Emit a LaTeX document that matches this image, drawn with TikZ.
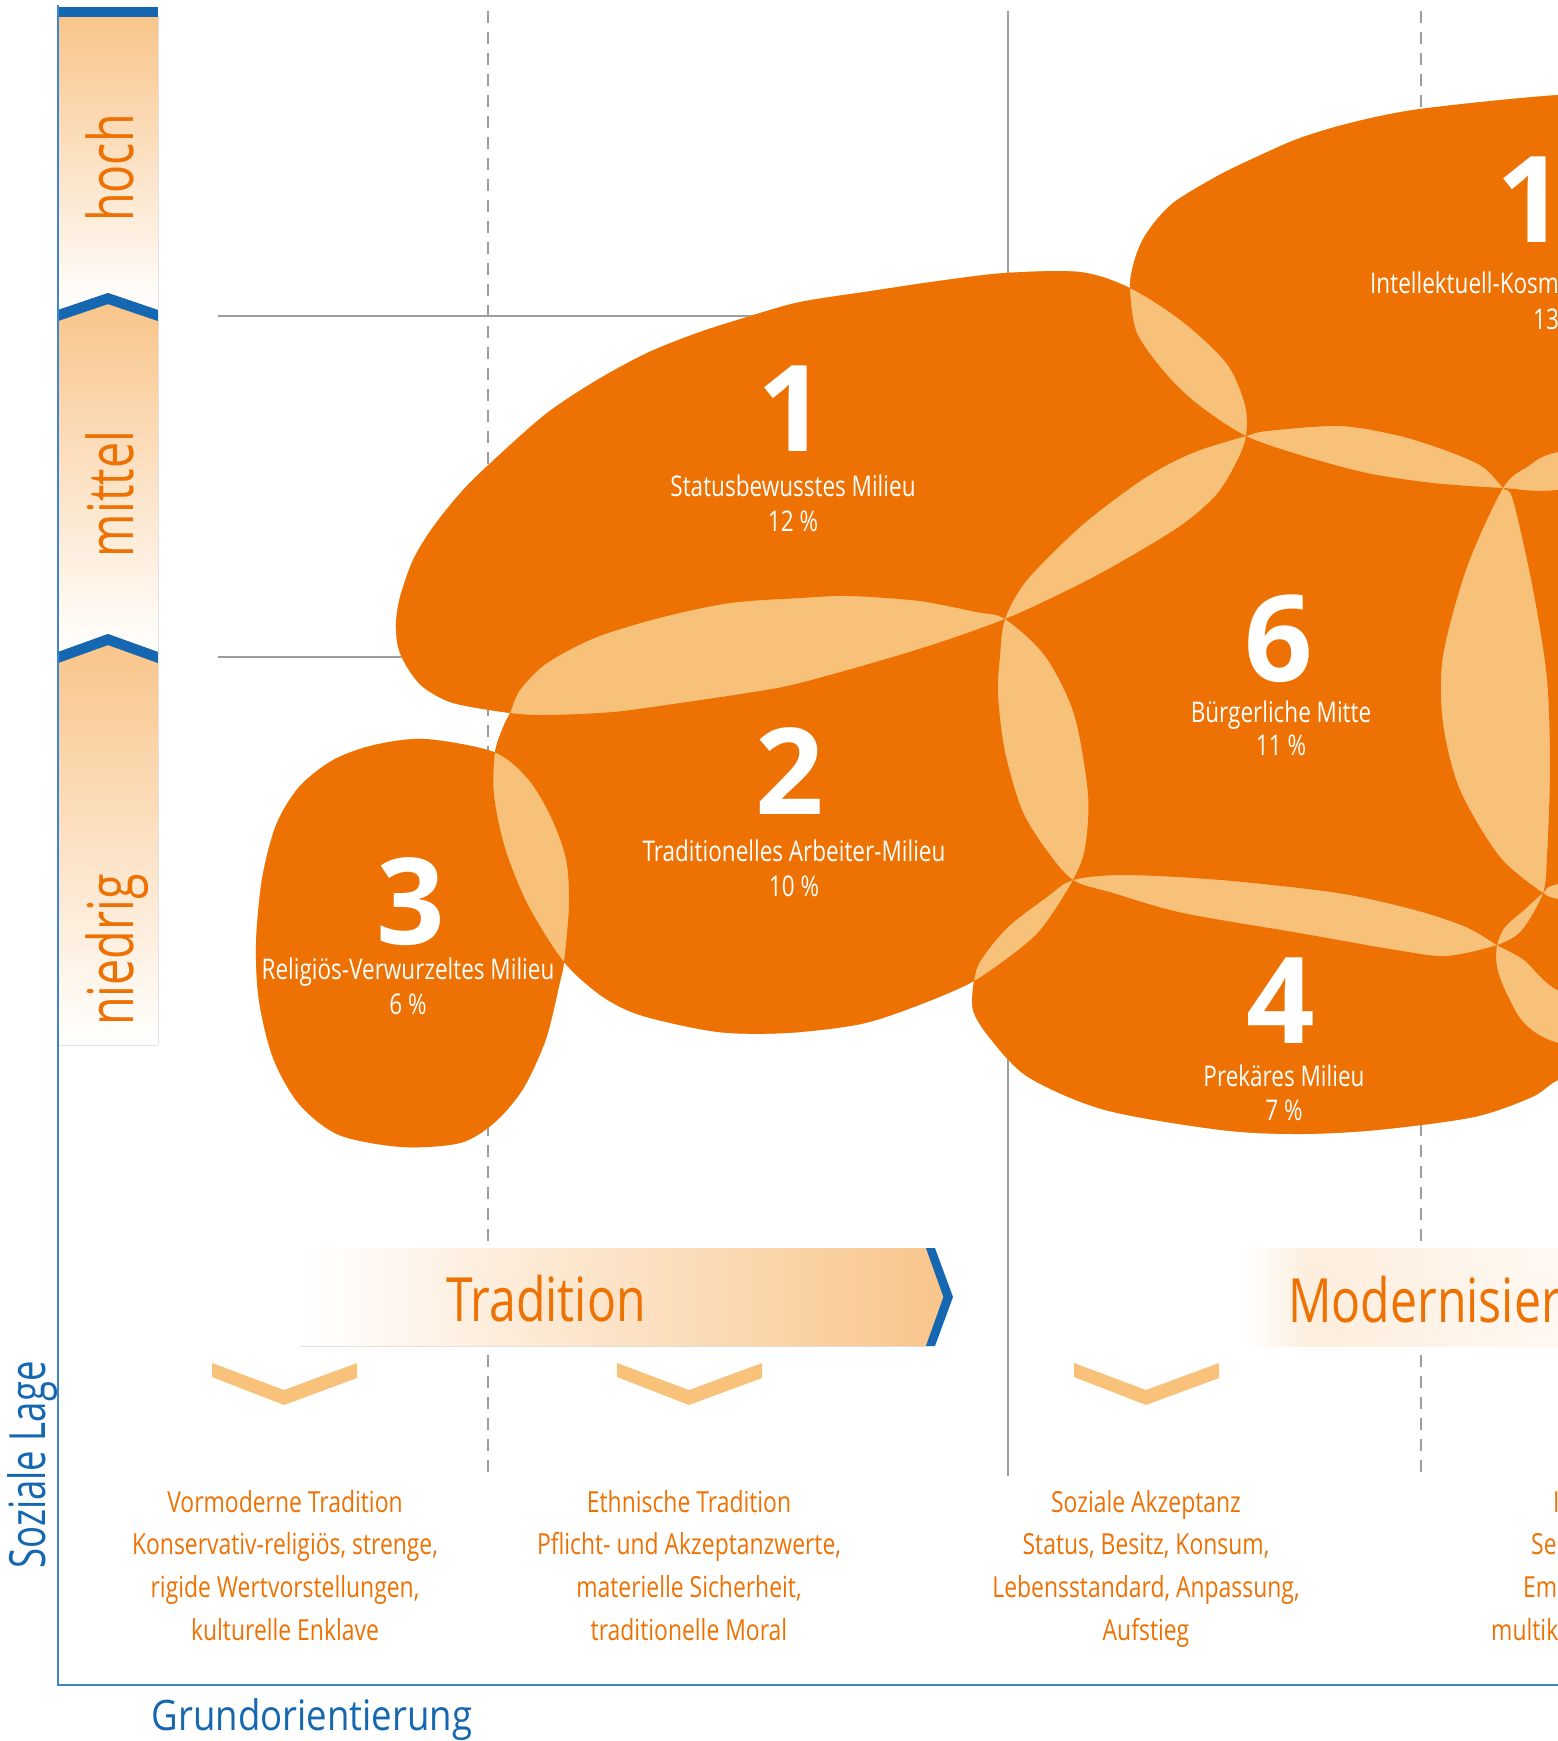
\documentclass[tikz,border=0pt]{standalone}
\usepackage{fontspec}
\usepackage{xcolor}
\usepackage{tikz}

\newfontfamily\condfont[FakeStretch=0.79]{Open Sans}
\newfontfamily\levelfont[FakeStretch=0.74]{Open Sans}
\newfontfamily\lagefont[FakeStretch=0.73]{Open Sans}
\newfontfamily\axisfont[FakeStretch=0.87]{Open Sans}
\newfontfamily\numfont{Open Sans}

\definecolor{blobcolor}{HTML}{EE7203}
\definecolor{lenscolor}{HTML}{F8C17A}
\definecolor{barcolor}{HTML}{F9C58B}
\definecolor{chevcolor}{HTML}{F9C27B}
\definecolor{axisblue}{HTML}{1467B0}
\definecolor{lineblue}{HTML}{3F86C9}
\definecolor{gridgray}{HTML}{9D9D9D}
\definecolor{modtint}{HTML}{FDEEDD}
\definecolor{modtintb}{HTML}{FFF8F2}

\tikzset{
  gridline/.style={draw=gridgray, line width=2.2pt},
  milieunum/.style={font=\numfont\bfseries\fontsize{120}{120}\selectfont, text=white, anchor=base, inner sep=0pt},
  milieuname/.style={font=\condfont\fontsize{28.5}{34}\selectfont, text=white, anchor=base, inner sep=0pt},
  orientext/.style={font=\condfont\fontsize{29}{43}\selectfont, text=blobcolor, anchor=base, inner sep=0pt},
  lagetext/.style={font=\levelfont\fontsize{63}{63}\selectfont, text=blobcolor, rotate=90, anchor=base, inner sep=0pt},
  bandtext/.style={font=\condfont\fontsize{61}{61}\selectfont, text=blobcolor, anchor=base, inner sep=0pt},
  axistext/.style={font=\axisfont\fontsize{42}{42}\selectfont, text=axisblue, anchor=base, inner sep=0pt},
}

% outlines of the milieus
\newcommand{\statusblob}{plot[smooth cycle] coordinates {(396,623) (400,597) (413,560) (433,527) (463,490) (497,457) (547,413) (597,380) (647,353) (697,333) (747,317) (800,302) (871,291) (938,281) (1005,273) (1080,272) (1130,288) (1183,322) (1227,364) (1245,405) (1246,436) (1237,461) (1217,494) (1183,524) (1133,555) (1080,584) (1005,619) (916,650) (800,683) (747,693) (680,703) (613,712) (547,715) (510,713) (453,703) (423,687) (407,667) (398,647)}}
\newcommand{\arbeiterblob}{plot[smooth cycle] coordinates {(495,752) (504,725) (510,713) (520,690) (547,663) (597,637) (663,617) (730,603) (800,598) (850,596) (919,601) (976,612) (1005,619) (1045,656) (1074,714) (1088,794) (1085,848) (1073,880) (1045,924) (1022,947) (974,981) (919,1005) (861,1024) (787,1033) (718,1032) (643,1016) (603,997) (564,962) (528,905) (505,848) (494,795)}}
\newcommand{\religionblob}{plot[smooth cycle] coordinates {(425,739) (494,752) (528,779) (551,817) (566,859) (569,905) (564,962) (560,982) (546,1039) (523,1089) (494,1123) (460,1143) (402,1147) (339,1135) (299,1104) (273,1058) (259,1001) (256,944) (262,879) (276,825) (299,787) (333,760) (374,745)}}
\newcommand{\mitteblob}{plot[smooth cycle] coordinates {(1005,619) (1027,580) (1080,527) (1133,486) (1167,465) (1200,450) (1246,436) (1267,431) (1340,426) (1400,436) (1450,452) (1483,467) (1503,488) (1513,500) (1533,589) (1547,679) (1550,768) (1547,857) (1543,893) (1522,930) (1497,945) (1446,956) (1396,950) (1299,933) (1183,913) (1113,893) (1073,880) (1045,848) (1022,810) (1005,752) (998,695) (1000,656)}}
\newcommand{\kosmoblob}{plot[smooth cycle] coordinates {(1130,288) (1134,262) (1143,239) (1158,218) (1177,200) (1221,174) (1265,153) (1300,138) (1350,123) (1420,109) (1558,95) (1680,92) (1760,250) (1700,470) (1558,490) (1503,488) (1433,483) (1367,473) (1300,455) (1246,436) (1200,406) (1167,375) (1137,333)}}
\newcommand{\rightblob}{plot[smooth cycle] coordinates {(1503,488) (1527,467) (1558,452) (1660,440) (1720,650) (1680,880) (1580,905) (1558,899) (1543,893) (1500,857) (1460,790) (1443,723) (1443,656) (1467,567)}}
\newcommand{\lowrightblob}{plot[smooth cycle] coordinates {(1543,893) (1558,884) (1650,870) (1720,980) (1650,1060) (1558,1043) (1524,1023) (1505,990) (1497,967) (1497,945) (1505,927) (1524,910)}}
\newcommand{\prekaerblob}{plot[smooth cycle] coordinates {(1073,880) (1125,875) (1221,880) (1338,893) (1415,910) (1466,927) (1497,945) (1524,960) (1547,983) (1590,1015) (1610,1060) (1558,1080) (1532,1097) (1474,1117) (1377,1130) (1299,1134) (1221,1130) (1105,1110) (1028,1077) (989,1037) (973,1010) (974,981) (981,960) (1008,927) (1047,897)}}

\begin{document}
\begin{tikzpicture}[x=1pt, y=-1pt]
    \useasboundingbox (0,0) rectangle (1558,1741);
    \clip (0,0) rectangle (1558,1741);
    \fill[white] (0,0) rectangle (1558,1741);

    % scale of the social position
    \fill[top color=barcolor, bottom color=white] (58,17) -- (158,17) -- (158,310) -- (108,293) -- (58,310) -- cycle;
    \fill[top color=barcolor, bottom color=white] (58,321) -- (108,304) -- (158,321) -- (158,652) -- (108,634) -- (58,652) -- cycle;
    \fill[top color=barcolor, bottom color=white] (58,663) -- (108,645) -- (158,663) -- (158,1045) -- (58,1045) -- cycle;
    \fill[axisblue] (58,7) rectangle (158,17);
    \fill[axisblue] (58,310) -- (108,293) -- (158,310) -- (158,321) -- (108,304) -- (58,321) -- cycle;
    \fill[axisblue] (58,652) -- (108,634) -- (158,652) -- (158,663) -- (108,645) -- (58,663) -- cycle;

    \draw[gridline] (218,316) -- (800,316);
    \draw[gridline] (218,657) -- (450,657);
    \draw[gridline, dash pattern=on 12pt off 9pt] (488,11) -- (488,1476);
    \draw[gridline] (1008,11) -- (1008,1476);
    \draw[gridline, dash pattern=on 12pt off 9pt] (1421,11) -- (1421,1476);

    % milieus, overlaps come out light
    \fill[lenscolor] \statusblob \arbeiterblob \religionblob \mitteblob \kosmoblob \rightblob \lowrightblob \prekaerblob;
    \fill[blobcolor, even odd rule] \statusblob \arbeiterblob \religionblob \mitteblob \kosmoblob \rightblob \lowrightblob \prekaerblob;

    % orientation bands
    \fill[left color=white, right color=barcolor] (300,1248) -- (926,1248) -- (943.5,1297) -- (926,1346) -- (300,1346) -- cycle;
    \fill[axisblue] (926,1248) -- (935,1248) -- (953,1297) -- (935,1346) -- (926,1346) -- (943.5,1297) -- cycle;
    \fill[left color=white, right color=modtint] (1245,1248) rectangle (1310,1346);
    \fill[left color=modtint, right color=modtintb] (1310,1248) rectangle (1558,1346);

    \foreach \cx in {284,689,1146}
        \fill[chevcolor] (\cx-72,1363) -- (\cx,1390) -- (\cx+73,1363) -- (\cx+73,1378) -- (\cx,1405) -- (\cx-72,1377) -- cycle;

    \draw[lineblue, line width=2pt] (58,5) -- (58,1685) -- (1558,1685);

    \node[lagetext] (hoch) at (133,168) {hoch};
    \node[lagetext] (mittel) at (133,494) {mittel};
    \node[lagetext] (niedrig) at (133,950) {niedrig};
    \node[axistext, font=\lagefont\fontsize{50}{50}\selectfont, rotate=90] (lage) at (45,1465) {Soziale Lage};
    \node[axistext] (grund) at (312,1730) {Grundorientierung};

    \node[milieunum] (n1) at (792,451) {1};
    \node[milieuname] (status) at (793,496) {Statusbewusstes Milieu};
    \node[milieuname] (statusp) at (793,531) {12 \%};
    \node[milieunum] (n2) at (790,814) {2};
    \node[milieuname] (arbeiter) at (794,861) {Traditionelles Arbeiter-Milieu};
    \node[milieuname] (arbeiterp) at (794,896) {10 \%};
    \node[milieunum] (n3) at (411,944) {3};
    \node[milieuname] (religion) at (408,979) {Religiös-Verwurzeltes Milieu};
    \node[milieuname] (religionp) at (408,1014) {6 \%};
    \node[milieunum] (n6) at (1279,681) {6};
    \node[milieuname] (mitte) at (1281,722) {Bürgerliche Mitte};
    \node[milieuname] (mittep) at (1281,755) {11 \%};
    \node[milieunum] (n4) at (1281,1043) {4};
    \node[milieuname] (prekaer) at (1284,1086) {Prekäres Milieu};
    \node[milieuname] (prekaerp) at (1284,1120) {7 \%};
    \node[milieunum] (nk) at (1531,242) {1};
    \node[milieuname, anchor=base west] (kosmo) at (1370,293) {Intellektuell-Kosm};
    \node[milieuname, anchor=base west] (kosmop) at (1533,329) {13};

    \node[bandtext] (tradition) at (546,1321) {Tradition};
    \node[bandtext, anchor=base west] (modern) at (1288,1322) {Modernisier};

    \node[orientext] (vor1) at (285,1512) {Vormoderne Tradition};
    \node[orientext] (vor2) at (285,1554) {Konservativ-religiös, strenge,};
    \node[orientext] (vor3) at (285,1597) {rigide Wertvorstellungen,};
    \node[orientext] (vor4) at (285,1640) {kulturelle Enklave};
    \node[orientext] (eth1) at (689,1512) {Ethnische Tradition};
    \node[orientext] (eth2) at (689,1554) {Pflicht- und Akzeptanzwerte,};
    \node[orientext] (eth3) at (689,1597) {materielle Sicherheit,};
    \node[orientext] (eth4) at (689,1640) {traditionelle Moral};
    \node[orientext] (soz1) at (1146,1512) {Soziale Akzeptanz};
    \node[orientext] (soz2) at (1146,1554) {Status, Besitz, Konsum,};
    \node[orientext] (soz3) at (1146,1597) {Lebensstandard, Anpassung,};
    \node[orientext] (soz4) at (1146,1640) {Aufstieg};
    \node[orientext, anchor=base west] (ind1) at (1553,1512) {I};
    \node[orientext, anchor=base west] (ind2) at (1531,1554) {Se};
    \node[orientext, anchor=base west] (ind3) at (1523,1597) {Em};
    \node[orientext, anchor=base west] (ind4) at (1491,1640) {multik};
\end{tikzpicture}
\end{document}
